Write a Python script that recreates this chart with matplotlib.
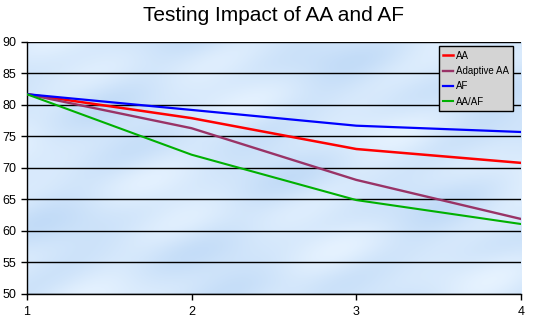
import numpy as np
import matplotlib.pyplot as plt

plt.rcParams['font.family'] = ['Liberation Sans', 'DejaVu Sans']

x = [1, 2, 3, 4]
aa = [81.7, 77.9, 73.0, 70.8]
adaptive_aa = [81.7, 76.3, 68.1, 61.9]
af = [81.7, 79.2, 76.7, 75.7]
aa_af = [81.7, 72.1, 64.9, 61.1]

fig = plt.figure(figsize=(5.36, 3.22), dpi=100)
ax = fig.add_axes([0.050, 0.087, 0.922, 0.783])

# cloudy sky background (deterministic texture)
gx, gy = np.meshgrid(np.linspace(0, 1, 300), np.linspace(0, 1, 200))
tex = (np.sin(gx * 17 + gy * 5) + np.sin(gx * 7 - gy * 13 + 1.3)
       + 0.6 * np.sin(gx * 31 + gy * 23 + 0.5) + 0.5 * np.sin(gx * 11 + gy * 29 + 2))
tex = (tex - tex.min()) / (tex.max() - tex.min())
c1 = np.array([0.76, 0.86, 0.97])
c2 = np.array([0.90, 0.95, 1.0])
img = c1 + (c2 - c1) * tex[..., None]
ax.imshow(img, extent=[0, 1, 0, 1], transform=ax.transAxes, aspect='auto', zorder=0)

ax.plot(x, aa, color='#FF0000', lw=1.8, label='AA', zorder=3)
ax.plot(x, adaptive_aa, color='#993366', lw=1.7, label='Adaptive AA', zorder=3)
ax.plot(x, af, color='#0000FF', lw=1.6, label='AF', zorder=3)
ax.plot(x, aa_af, color='#00B000', lw=1.5, label='AA/AF', zorder=3)

ax.set_xlim(1, 4)
ax.set_ylim(50, 90)
ax.set_xticks(x)
ax.set_yticks(range(50, 91, 5))
ax.grid(axis='y', color='black', lw=1, zorder=1)
ax.set_axisbelow(True)
for s in ['top', 'right']:
    ax.spines[s].set_visible(False)
for s in ['left', 'bottom']:
    ax.spines[s].set_linewidth(1)
ax.tick_params(labelsize=9, length=4, width=1)
ax.tick_params(axis='x', pad=5)

ax.set_title('Testing Impact of AA and AF', fontsize=15, pad=15)

leg = ax.legend(loc='upper right', bbox_to_anchor=(0.984, 0.982), fontsize=7,
                handlelength=1.0, handletextpad=0.3, labelspacing=0.55,
                borderpad=0.45, borderaxespad=0, fancybox=False, framealpha=1)
leg.get_frame().set_facecolor('#D4D4D4')
leg.get_frame().set_edgecolor('black')
leg.get_frame().set_linewidth(1)

fig.savefig('out.png', dpi=100)
